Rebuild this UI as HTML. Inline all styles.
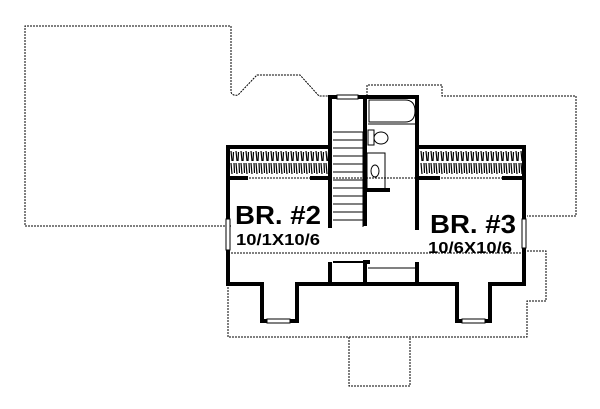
<!DOCTYPE html>
<html><head><meta charset="utf-8"><style>
html,body{margin:0;padding:0;background:#fff;}
svg{display:block;}
text{font-family:"Liberation Sans",sans-serif;font-weight:bold;fill:#000;}
</style></head><body>
<svg width="600" height="409" viewBox="0 0 600 409" xmlns="http://www.w3.org/2000/svg">
<defs>
<pattern id="hatch" width="5" height="25" patternUnits="userSpaceOnUse">
<rect width="5" height="25" fill="#fff"/>
<path d="M1 1 L2 11 M3.5 2 L3 11 M1 13 L2 24 M4 13 L4.5 23" stroke="#000" stroke-width="1.2"/>
</pattern>
</defs>
<g fill="none" stroke="#000" stroke-width="1" stroke-dasharray="2,1">
<path d="M231 226 L25 226 L25 26 L231 26 L231 92 Q232 96 238 95 L257 75 L300 75 L319 96 L330 96"/>
<path d="M367 96 L367 85 L442 85 L442 96 L576 96 L576 216 L527 216"/>
<path d="M527 251 L546 251 L546 301 L527 301 L527 337 L228 337 L228 286"/>
<path d="M349 337 L349 386 L410 386 L410 337"/>
<path d="M228 178 L525 178 M228 253 L525 253"/>
</g>
<rect x="229" y="150" width="99" height="25" fill="url(#hatch)"/>
<rect x="420" y="150" width="102" height="25" fill="url(#hatch)"/>
<g fill="none" stroke="#000" stroke-width="4" stroke-linejoin="miter">
<path d="M330 147 L228 147 L228 219 M228 250 L228 284 L262 284 L262 321 L267 321 M290 321 L297 321 L297 284 L457 284 L457 321 L462 321 M485 321 L490 321 L490 284 L524 284 L524 248 M524 219 L524 147 L417 147"/>
<path d="M330 284 L330 262 M330 228 L330 97 L337 97 M358 97 L417 97 L417 230"/>
<path d="M365 284 L365 262 L370 262 M417 284 L417 262"/>
<path d="M365 226 L365 190 L390 190 M365 190 L365 99"/>
<path d="M228 178 L248 178 M310 178 L330 178 M417 178 L440 178 M502 178 L524 178"/>
<path d="M417 185 L417 190"/>
</g>
<g fill="none" stroke="#000" stroke-width="1">
<rect x="337" y="95" width="21" height="4" fill="#fff"/>
<rect x="226" y="219" width="4" height="31" fill="#fff"/>
<rect x="522" y="219" width="4" height="29" fill="#fff"/>
<rect x="267" y="319" width="23" height="4" fill="#fff"/>
<rect x="462" y="319" width="23" height="4" fill="#fff"/>
<path d="M369 100 L405 100 Q415 100 415 111 Q415 122 405 122 L369 122 Z"/>
<path d="M368 124 L415 124"/>
<rect x="368" y="130" width="6" height="15"/>
<ellipse cx="381" cy="138" rx="7" ry="6"/>
<rect x="367" y="153" width="18" height="36"/>
<ellipse cx="375" cy="171" rx="4" ry="6"/>
<path d="M368 268 L416 268"/>
<path d="M333 262 L365 262" stroke-width="2"/>
<path d="M333 132 L363 132 M333 140 L363 140 M333 148 L363 148 M333 156 L363 156 M333 164 L363 164 M333 172 L363 172 M333 180 L363 180 M333 188 L363 188 M333 196 L363 196 M333 204 L363 204 M333 212 L363 212 M333 220 L363 220 M363 132 L363 227"/>
</g>
<text x="235" y="224" font-size="26" textLength="86" lengthAdjust="spacingAndGlyphs">BR. #2</text>
<text x="236" y="245" font-size="16" textLength="84" lengthAdjust="spacingAndGlyphs">10/1X10/6</text>
<text x="430" y="233" font-size="26" textLength="86" lengthAdjust="spacingAndGlyphs">BR. #3</text>
<text x="428" y="253" font-size="16" textLength="84" lengthAdjust="spacingAndGlyphs">10/6X10/6</text>
</svg>
</body></html>
